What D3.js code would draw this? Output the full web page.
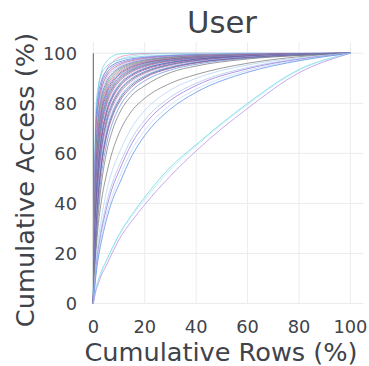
<!DOCTYPE html>
<html><head><meta charset="utf-8">
<script src="https://cdn.jsdelivr.net/npm/d3@7"></script>
<style>html,body{margin:0;padding:0;background:#fff;} svg{display:block;}</style>
</head><body><svg id="chart" width="369" height="366"></svg>
<script>
const titleText = "User";
const xLabel = "Cumulative Rows (%)";
const yLabel = "Cumulative Access (%)";
const xTicks = [0, 20, 40, 60, 80, 100];
const yTicks = [0, 20, 40, 60, 80, 100];

// x positions (Cumulative Rows %) at which every curve below was read
const rowsPct = [0, 1, 2, 3, 5, 7.5, 10, 15, 20, 30, 40, 60, 80, 100];

// Cumulative Access (%) for each curve, read at rowsPct
const s01 = [0, 72, 86, 92, 96.5, 98.8, 99.7, 100, 100, 100, 100, 100, 100, 100];
const s02 = [0, 65, 80, 87, 93, 96.5, 98.3, 99.5, 99.9, 100, 100, 100, 100, 100];
const s03 = [0, 60, 76, 84, 91, 95, 97.2, 98.9, 99.5, 99.9, 100, 100, 100, 100];
const s04 = [0, 77.2, 87.2, 91.2, 94.6, 96.4, 97.4, 98.3, 98.8, 99.3, 99.6, 99.8, 99.9, 100];
const s05 = [0, 71.7, 83.7, 88.6, 93.0, 95.3, 96.5, 97.8, 98.4, 99.1, 99.4, 99.7, 99.9, 100];
const s06 = [0, 68.3, 81.3, 86.8, 91.8, 94.5, 95.9, 97.4, 98.2, 98.9, 99.3, 99.7, 99.9, 100];
const s07 = [0, 64.9, 78.9, 85.0, 90.6, 93.7, 95.3, 97.0, 97.9, 98.7, 99.2, 99.6, 99.9, 100];
const s08 = [0, 62.1, 76.8, 83.3, 89.5, 92.9, 94.7, 96.6, 97.6, 98.6, 99.1, 99.6, 99.9, 100];
const s09 = [0, 59.2, 74.6, 81.6, 88.3, 92.1, 94.1, 96.2, 97.3, 98.4, 99.0, 99.5, 99.8, 100];
const s10 = [0, 56.9, 72.7, 80.1, 87.3, 91.4, 93.6, 95.8, 97.0, 98.3, 98.9, 99.5, 99.8, 100];
const s11 = [0, 54.5, 70.8, 78.6, 86.2, 90.6, 93.0, 95.4, 96.7, 98.1, 98.8, 99.4, 99.8, 100];
const s12 = [0, 52.5, 69.1, 77.2, 85.2, 89.9, 92.4, 95.1, 96.5, 97.9, 98.7, 99.4, 99.8, 100];
const s13 = [0, 50.5, 67.3, 75.8, 84.2, 89.1, 91.8, 94.7, 96.2, 97.7, 98.5, 99.3, 99.8, 100];
const s14 = [0, 48.8, 65.8, 74.5, 83.2, 88.4, 91.3, 94.3, 96.0, 97.6, 98.4, 99.3, 99.8, 100];
const s15 = [0, 47.0, 64.2, 73.1, 82.2, 87.7, 90.7, 93.9, 95.7, 97.4, 98.3, 99.2, 99.7, 100];
const s16 = [0, 45.5, 62.8, 71.9, 81.3, 87.0, 90.2, 93.6, 95.4, 97.3, 98.2, 99.2, 99.7, 100];
const s17 = [0, 44.0, 61.4, 70.7, 80.4, 86.3, 89.6, 93.2, 95.1, 97.1, 98.1, 99.1, 99.7, 100];
const s18 = [0, 42.7, 60.1, 69.6, 79.5, 85.7, 89.1, 92.9, 94.9, 97.0, 98.0, 99.1, 99.7, 100];
const s19 = [0, 41.4, 58.8, 68.4, 78.6, 85.0, 88.6, 92.5, 94.6, 96.8, 97.9, 99.1, 99.6, 100];
const s20 = [0, 39.1, 56.4, 66.3, 77.0, 83.7, 87.6, 91.8, 94.1, 96.5, 97.7, 99.0, 99.6, 100];
const s21 = [0, 37.8, 55.0, 65.0, 76.0, 82.9, 87.0, 91.4, 93.8, 96.3, 97.6, 98.9, 99.6, 100];
const s22 = [0, 36.4, 53.6, 63.6, 74.9, 82.1, 86.3, 90.9, 93.4, 96.0, 97.4, 98.8, 99.6, 100];
const s23 = [0, 34.0, 51.0, 61.2, 72.9, 80.5, 85.0, 90.0, 92.7, 95.6, 97.1, 98.7, 99.5, 100];
const s24 = [0, 32.8, 49.6, 59.8, 71.7, 79.6, 84.3, 89.5, 92.3, 95.4, 97.0, 98.7, 99.5, 100];
const s25 = [0, 31.5, 48.1, 58.4, 70.5, 78.7, 83.5, 88.9, 91.9, 95.1, 96.8, 98.6, 99.5, 100];
const s26 = [0, 29.3, 45.6, 55.9, 68.3, 76.9, 82.0, 87.9, 91.1, 94.6, 96.5, 98.4, 99.4, 100];
const s27 = [0, 28.2, 44.2, 54.6, 67.1, 75.9, 81.2, 87.3, 90.7, 94.3, 96.3, 98.3, 99.4, 100];
const s28 = [0, 27.1, 42.8, 53.2, 65.9, 74.9, 80.3, 86.6, 90.2, 94.0, 96.1, 98.2, 99.3, 100];
const s29 = [0, 24.6, 39.7, 49.9, 62.9, 72.3, 78.2, 85.1, 89.0, 93.3, 95.6, 98.0, 99.2, 100];
const s30 = [0, 22.1, 36.4, 46.4, 59.6, 69.4, 75.7, 83.2, 87.0, 92.3, 94.9, 97.7, 99.1, 100];
const s31 = [0, 20, 32, 40, 51, 61, 68, 77, 82, 88, 91.5, 96, 98.6, 100];
const s32 = [0, 16, 26, 33, 44, 53.5, 60.0, 70.4, 77.1, 85.3, 90.0, 95.3, 98.2, 100];
const s33 = [0, 14, 23, 29.5, 39.5, 48.5, 55.0, 66.0, 73.3, 82.5, 88.0, 94.3, 97.8, 100];
const s34 = [0, 13, 21.5, 28, 37.5, 46.5, 52.9, 64.0, 71.6, 81.2, 87.1, 93.8, 97.6, 100];
const s35 = [0, 12, 20, 26, 35, 43.5, 50.0, 61.4, 69.2, 79.4, 85.7, 93.1, 97.3, 100];
const s36 = [0, 11, 18.5, 24, 33, 41.5, 47.5, 59.0, 67.1, 77.7, 84.4, 92.4, 97.0, 100];
const s37 = [0, 6, 9.5, 12.5, 17, 22.5, 27.5, 35.5, 42.5, 54.5, 63.5, 80, 93.5, 100];
const s38 = [0, 5.5, 9, 12, 16.5, 22, 27, 35, 41.5, 53.5, 63, 79.5, 93.2, 100];
const s39 = [0, 5, 8, 11, 15, 20.5, 25.5, 33, 39.5, 51, 61, 78, 92.2, 100];

// one user whose accesses all fall on the first rows: a vertical rise at x = 0
const jumpRows = [0, 0];
const jumpAccess = [0, 100];

const curves = [s01,s02,s03,s04,s05,s06,s07,s08,s09,s10,s11,s12,s13,s14,s15,s16,s17,s18,s19,s20,
  s21,s22,s23,s24,s25,s26,s27,s28,s29,s30,s31,s32,s33,s34,s35,s36,s37,s38,s39];

const palette = ["#6fd6e0","#e58fb5","#9fdcec","#78c8e8","#5b86dc","#8c7de0","#c45c86","#a0c4f4",
  "#7a5cc8","#5c9e7c","#8a8a8a","#d07ab4","#4a6fc0","#b04860","#6aa8e6","#9966cc","#4c8c6a",
  "#7d7dd6","#c06890","#8ab0ec","#2f4f9f","#a050a0","#5a78d0","#666666","#b988d8","#9abbe8",
  "#3a6ab0","#8e4c8e","#6f8fdc","#7a7a7a","#7b7b7b","#b4d2f6","#a9c6f2","#9a74d8","#c4dcf8",
  "#5a8fe6","#66d6e6","#b0e8f2","#b88be8"];

const svg = d3.select("#chart");
const x = d3.scaleLinear().domain([0, 105]).range([93.3, 363.3]);
const y = d3.scaleLinear().domain([0, 104.5]).range([303.5, 42]);
const font = "'DejaVu Sans', sans-serif";
const textColor = "#3f434a";

// grid
const grid = svg.append("g");
grid.selectAll("line.v").data(xTicks).enter().append("line")
  .attr("x1", d => x(d)).attr("x2", d => x(d))
  .attr("y1", y(0)).attr("y2", y(104.5))
  .attr("stroke", "#ececec").attr("stroke-width", 1);
grid.selectAll("line.h").data(yTicks).enter().append("line")
  .attr("y1", d => y(d)).attr("y2", d => y(d))
  .attr("x1", x(0)).attr("x2", x(105))
  .attr("stroke", "#ececec").attr("stroke-width", 1);

// curves
const g = svg.append("g");
g.append("path")
  .attr("d", d3.line().x(d => x(d[0])).y(d => y(d[1]))(jumpRows.map((r, i) => [r, jumpAccess[i]])))
  .attr("fill", "none").attr("stroke", "#4d5a55").attr("stroke-width", 1).attr("stroke-opacity", 0.9);
const line = d3.line()
  .x((d, i) => x(rowsPct[i]))
  .y(d => y(d))
  .curve(d3.curveMonotoneX);
curves.forEach((c, i) => {
  g.append("path").attr("d", line(c))
    .attr("fill", "none")
    .attr("stroke", palette[i % palette.length])
    .attr("stroke-width", 1)
    .attr("stroke-opacity", 0.75);
});

// tick labels
svg.append("g").selectAll("text").data(xTicks).enter().append("text")
  .attr("x", d => x(d)).attr("y", 333)
  .attr("text-anchor", "middle")
  .attr("font-family", font).attr("font-size", 17.8).attr("fill", textColor)
  .text(d => d);
svg.append("g").selectAll("text").data(yTicks).enter().append("text")
  .attr("x", 77).attr("y", d => y(d)).attr("dy", "0.36em")
  .attr("text-anchor", "end")
  .attr("font-family", font).attr("font-size", 17.8).attr("fill", textColor)
  .text(d => d);

// title and axis labels
svg.append("text").attr("x", 222).attr("y", 33.3).attr("text-anchor", "middle")
  .attr("font-family", font).attr("font-size", 30.7).attr("fill", textColor).text(titleText);
svg.append("text").attr("x", 221).attr("y", 360.5).attr("text-anchor", "middle")
  .attr("font-family", font).attr("font-size", 25.6).attr("fill", textColor).text(xLabel);
svg.append("text").attr("transform", "translate(34,180) rotate(-90)").attr("text-anchor", "middle")
  .attr("font-family", font).attr("font-size", 25.6).attr("fill", textColor).text(yLabel);
</script>
</body></html>
